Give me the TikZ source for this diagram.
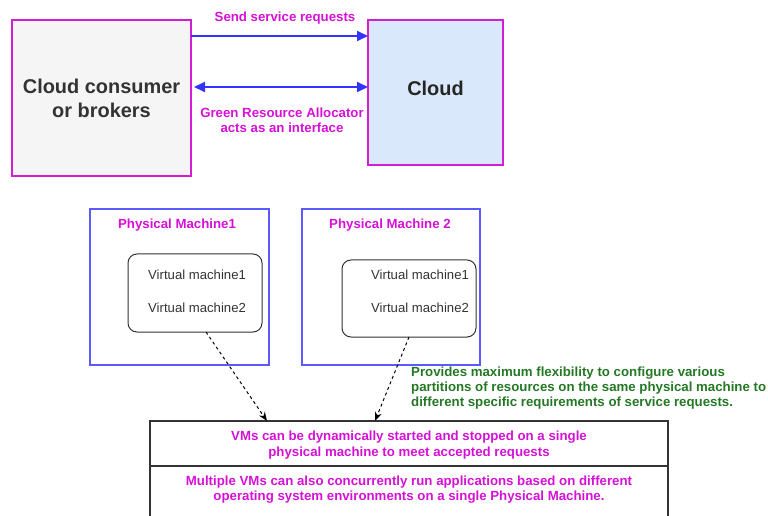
\documentclass[tikz,border=0pt]{standalone}
\usepackage{fontspec}
\setmainfont{Liberation Sans}
\usetikzlibrary{arrows.meta}

\definecolor{mag}{RGB}{214,16,214}
\definecolor{magline}{RGB}{210,30,210}
\definecolor{flowblue}{RGB}{51,51,255}
\definecolor{pmblue}{RGB}{90,90,255}
\definecolor{note}{RGB}{36,120,36}
\definecolor{consumerfill}{RGB}{245,245,245}
\definecolor{cloudfill}{RGB}{218,232,252}
\definecolor{darktext}{RGB}{51,51,51}

\tikzset{
  smallbold/.style={font=\fontsize{13.3}{15.5}\selectfont\bfseries},
  bigbold/.style={font=\fontsize{20}{24}\selectfont\bfseries},
  topbox/.style={draw=magline, line width=2bp, inner sep=0pt, outer sep=0pt,
    anchor=north west, align=center},
  pmbox/.style={draw=pmblue, line width=2bp, inner sep=0pt, outer sep=0pt,
    anchor=north west},
  vmbox/.style={draw=black!80, line width=1bp, rounded corners=9bp,
    inner sep=0pt, outer sep=0pt, anchor=north west},
  vmtext/.style={font=\fontsize{13.2}{15}\selectfont, text=darktext,
    anchor=west, inner sep=0pt},
  flow/.style={draw=flowblue, line width=1.8bp,
    -{Triangle[length=11bp,width=10bp]}},
  flowboth/.style={draw=flowblue, line width=1.8bp,
    {Triangle[length=11bp,width=10bp]}-{Triangle[length=11bp,width=10bp]}},
  hint/.style={draw=black, line width=1bp, dash pattern=on 3bp off 3bp,
    -{Stealth[length=9bp,width=7bp]}},
  magtext/.style={smallbold, text=mag, align=center, inner sep=0pt},
}

\begin{document}
\begin{tikzpicture}[x=1bp, y=-1bp]
\useasboundingbox (0,0) rectangle (768,516);
\clip (0,0) rectangle (768,516);

% top row: consumer and cloud
\node[topbox, fill=consumerfill, minimum width=179bp, minimum height=156bp,
      bigbold, text=darktext] (consumer) at (12,20)
      {Cloud consumer\\or brokers};
\node[topbox, fill=cloudfill, minimum width=135bp, minimum height=145bp,
      bigbold, text=black!85, text depth=9bp] (cloud) at (368,20) {Cloud};

\draw[flow] (consumer.east |- 0,36) -- (cloud.west |- 0,36);
\coordinate (gra) at (194,87);
\draw[flowboth] (gra) -- (cloud.west |- gra);

\node[magtext] (sendlbl) at (285,18) {Send service requests};
\node[magtext] (gralbl) at (282,120.5)
      {Green Resource Allocator\\acts as an interface};

% physical machines
\node[pmbox, minimum width=179bp, minimum height=156bp] (pm1) at (90,209) {};
\node[pmbox, minimum width=178bp, minimum height=156bp] (pm2) at (302,209) {};
\node[magtext] (pm1title) at (177,225) {Physical Machine1};
\node[magtext] (pm2title) at (390,225) {Physical Machine 2};

% virtual machines
\node[vmbox, minimum width=134bp, minimum height=78bp] (vm1) at (128,254) {};
\node[vmbox, minimum width=134bp, minimum height=77bp] (vm2) at (342,260) {};
\node[vmtext] (vm1a) at (148,275) {Virtual machine1};
\node[vmtext] (vm1b) at (148,308) {Virtual machine2};
\node[vmtext] (vm2a) at (371,275) {Virtual machine1};
\node[vmtext] (vm2b) at (371,308) {Virtual machine2};

% summary box
\node[draw=black!80, line width=1.2bp, inner sep=0pt, outer sep=0pt,
      anchor=north west, minimum width=518bp, minimum height=130bp]
      (summary) at (150,421) {};
\draw[black!80, line width=1.2bp] (summary.west |- 0,466) -- (summary.east |- 0,466);
\node[magtext] (sum1) at (409,445)
      {VMs can be dynamically started and stopped on a single\\physical machine to meet accepted requests};
\node[magtext] (sum2) at (409,489.5)
      {Multiple VMs can also concurrently run applications based on different\\operating system environments on a single Physical Machine.};

% dashed hints from the VMs to the summary
\draw[hint] ([xshift=11bp]vm1.south) -- (summary.north -| 267,0);
\draw[hint] (vm2.south -| 409,0) -- (summary.north -| 375,0);

% side note
\node[text=note, align=left, anchor=north west, inner sep=0pt,
      font=\fontsize{13.3}{15}\selectfont\bfseries] (notelbl) at (411,367)
      {Provides maximum flexibility to configure various\\partitions of resources on the same physical machine to\\different specific requirements of service requests.};
\end{tikzpicture}
\end{document}
